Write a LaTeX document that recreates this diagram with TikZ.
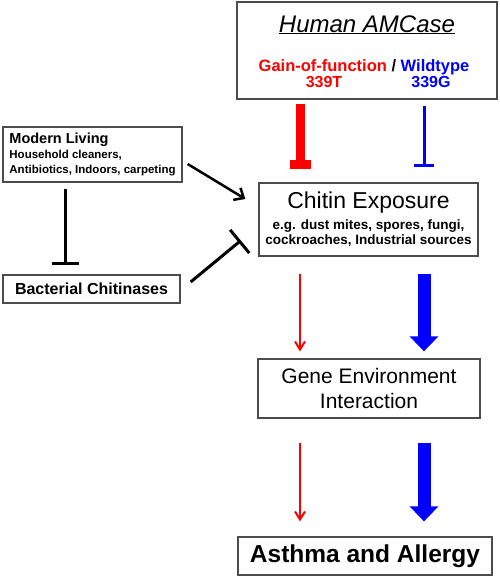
\documentclass[tikz,border=0pt]{standalone}
\usepackage{fontspec}
\setmainfont{Liberation Sans}
\usepackage{tikz}
\usetikzlibrary{positioning, arrows.meta, calc}

\begin{document}
\begin{tikzpicture}[
    x=1pt, y=-1pt,
    box/.style={rectangle, draw=black!70, line width=1.3pt, align=center, inner sep=0pt},
    lbl/.style={anchor=base, inner sep=0pt},
    % Connector styles
    promote/.style={line width=2.5pt, -{Straight Barb[length=8pt, width=14pt]}},
    inhibit/.style={line width=3pt, -{Bar[width=27pt]}},
    redflow/.style={red, line width=2pt, -{Straight Barb[length=8pt, width=10pt]}},
    blueflow/.style={blue, line width=13pt, -{Triangle[length=15pt, width=28pt]}}
]
\useasboundingbox (0,0) rectangle (500,576);

% Columns of the two alleles
\coordinate (redx) at (300,0);
\coordinate (bluex) at (424,0);
\coordinate (leftx) at (65,0);

% Human AMCase box
\node[box, minimum width=260, minimum height=97] (amcase) at (367,50.5) {};
\node[lbl, font=\itshape\fontsize{24}{28}\selectfont] (title) at (367,32) {\underline{Human AMCase}};
\node[lbl, font=\bfseries\fontsize{16.5}{18}\selectfont] (allele) at (364,71)
    {\textcolor{red}{Gain-of-function} / \textcolor{blue}{Wildtype}};
\node[lbl, font=\bfseries\fontsize{16}{18}\selectfont, red] (t339) at (324,87.5) {339T};
\node[lbl, font=\bfseries\fontsize{16}{18}\selectfont, blue] (g339) at (431,87.5) {339G};

% Environment boxes
\node[box, minimum width=179, minimum height=55, align=left, font=\bfseries\fontsize{11.5}{15}\selectfont] (modern) at (92.5,154.5)
    {{\fontsize{14.5}{15}\selectfont Modern Living}\\Household cleaners,\\Antibiotics, Indoors, carpeting};
\node[box, minimum width=177, minimum height=28, font=\bfseries\fontsize{16}{18}\selectfont] (bact) at (91.5,289) {Bacterial Chitinases};

% Chitin exposure
\node[box, minimum width=219, minimum height=73, font=\bfseries\fontsize{13.5}{15}\selectfont] (chitin) at (368.5,219.5)
    {{\mdseries\fontsize{23}{24}\selectfont Chitin Exposure}\\[6pt]e.g. dust mites, spores, fungi,\\cockroaches, Industrial sources};

% Gene environment interaction
\node[box, minimum width=222, minimum height=59, font=\fontsize{21}{25}\selectfont] (gene) at (369,388.5) {Gene Environment\\Interaction};

% Outcome
\node[box, minimum width=254, minimum height=38, font=\bfseries\fontsize{24.5}{28}\selectfont] (asthma) at (365,556) {Asthma and Allergy};

% AMCase acting on chitin
\draw[red, line width=9pt, -{Bar[width=21pt]}, shorten <=4pt, shorten >=13pt] (amcase.south -| redx) -- (chitin.north -| redx);
\draw[blue, line width=3pt, -{Bar[width=20pt]}, shorten <=6pt, shorten >=15pt] (amcase.south -| bluex) -- (chitin.north -| bluex);

% Modern living and bacteria
\draw[inhibit, shorten <=6pt, shorten >=9pt] (modern.south -| leftx) -- (bact.north -| leftx);
\draw[promote] ($(modern.east)+(5,9.5)$) -- ($(chitin.west)+(-13,-20.5)$);
\draw[inhibit, -{Bar[width=30pt]}] ($(bact.east)+(10,-7)$) -- ($(chitin.west)+(-17.5,21)$);

% Flow down to disease
\draw[redflow, shorten <=17pt, shorten >=7pt] (chitin.south -| redx) -- (gene.north -| redx);
\draw[blueflow, shorten <=17pt, shorten >=7pt] (chitin.south -| bluex) -- (gene.north -| bluex);
\draw[redflow, shorten <=24pt, shorten >=15pt] (gene.south -| redx) -- (asthma.north -| redx);
\draw[blueflow, shorten <=24pt, shorten >=15pt] (gene.south -| bluex) -- (asthma.north -| bluex);

\end{tikzpicture}
\end{document}
